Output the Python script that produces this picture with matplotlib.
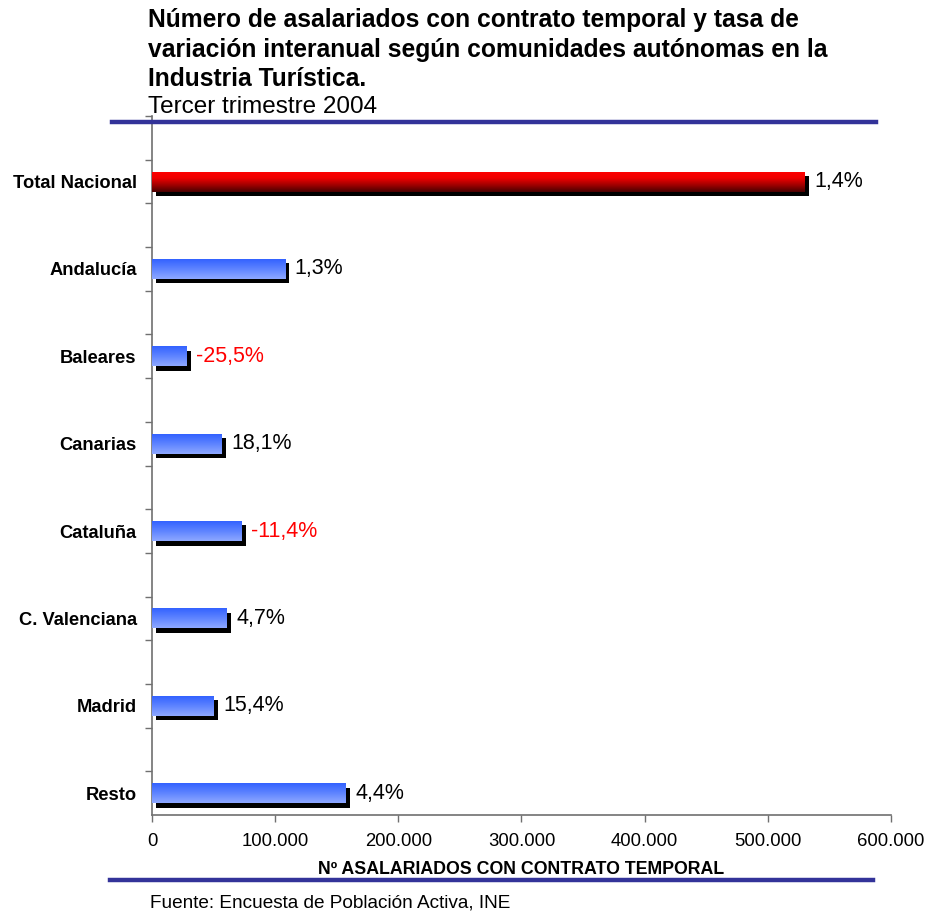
import numpy as np
import matplotlib
matplotlib.use("Agg")
import matplotlib.pyplot as plt
from matplotlib.colors import LinearSegmentedColormap
from matplotlib import patheffects as pe
from matplotlib.ticker import FixedLocator, FuncFormatter

plt.rcParams['font.family'] = ['Liberation Sans', 'DejaVu Sans']

categories = ["Total Nacional", "Andalucía", "Baleares", "Canarias", "Cataluña",
              "C. Valenciana", "Madrid", "Resto"]
values = [530000, 108000, 27700, 56400, 72600, 60400, 49900, 157000]
rates = ["1,4%", "1,3%", "-25,5%", "18,1%", "-11,4%", "4,7%", "15,4%", "4,4%"]
xticks = [0, 100000, 200000, 300000, 400000, 500000, 600000]

fig = plt.figure(figsize=(9.3, 9.15), dpi=100)
ax = fig.add_axes([0.1634, 0.1093, 0.7946, 0.7639])

y = np.arange(len(categories))
bh = 0.23
red_cmap = LinearSegmentedColormap.from_list("r", ["#ff0000", "#ee0000", "#a00000", "#4a0000"])
blue_cmap = LinearSegmentedColormap.from_list("b", ["#2f5fff", "#5c82ff", "#8ea8ff"])
grad = np.linspace(0, 1, 64).reshape(-1, 1)

bars = ax.barh(y, values, height=bh, color="#3366ff", zorder=2)
for i, b in enumerate(bars):
    b.set_path_effects([pe.SimplePatchShadow(offset=(3.2, -3.2), shadow_rgbFace='black', alpha=1.0),
                        pe.Normal()])
    x0, y0, w, h = b.get_x(), b.get_y(), b.get_width(), b.get_height()
    cmap = red_cmap if i == 0 else blue_cmap
    im = ax.imshow(grad, cmap=cmap, aspect='auto', extent=(x0, x0 + w, y0 + h, y0),
                   origin='upper', zorder=3, interpolation='bilinear')
    im.set_clip_path(b)
    col = 'red' if rates[i].startswith('-') else 'black'
    ax.annotate(rates[i], xy=(x0 + w, y0 + h / 2), xytext=(7, 0), textcoords='offset points',
                ha='left', va='center', fontsize=15.5, color=col, zorder=4)

ax.set_xlim(0, 600000)
ax.set_ylim(7.25, -0.75)
ax.set_xticks(xticks)
ax.xaxis.set_major_formatter(FuncFormatter(lambda v, p: f"{int(v):,}".replace(",", ".")))
ax.tick_params(axis='x', labelsize=13.3, length=5, width=1, color='#707070', pad=8)
ax.set_yticks(y)
ax.set_yticklabels(categories, fontsize=13.2, fontweight='bold')
ax.tick_params(axis='y', which='major', length=0, pad=11)
ax.yaxis.set_minor_locator(FixedLocator(np.arange(-0.75, 7.0, 0.5)))
ax.tick_params(axis='y', which='minor', length=5, width=1, color='#707070')
for s in ['top', 'right']:
    ax.spines[s].set_visible(False)
for s in ['left', 'bottom']:
    ax.spines[s].set_color('#707070')
    ax.spines[s].set_linewidth(1.2)

ax.set_xlabel("Nº ASALARIADOS CON CONTRATO TEMPORAL", fontsize=12.8, fontweight='bold', labelpad=8)

# Title
tfs = 17.7
fig.text(148 / 930, 1 - 20 / 915, "Número de asalariados con contrato temporal y tasa de",
         fontsize=tfs, fontweight='bold', va='center', ha='left')
fig.text(148 / 930, 1 - 50 / 915, "variación interanual según comunidades autónomas en la",
         fontsize=tfs, fontweight='bold', va='center', ha='left')
fig.text(148 / 930, 1 - 79 / 915, "Industria Turística.",
         fontsize=tfs, fontweight='bold', va='center', ha='left')
fig.text(148 / 930, 1 - 107 / 915, "Tercer trimestre 2004",
         fontsize=17.5, va='center', ha='left')

# Decorative lines
fig.add_artist(plt.Line2D([112 / 930, 876 / 930], [1 - 122 / 915, 1 - 122 / 915],
                          color='#333399', linewidth=3.2))
fig.add_artist(plt.Line2D([110 / 930, 873 / 930], [1 - 880 / 915, 1 - 880 / 915],
                          color='#333399', linewidth=3.2))

fig.text(150 / 930, 1 - 903 / 915, "Fuente: Encuesta de Población Activa, INE",
         fontsize=13.7, va='center', ha='left')

fig.savefig("out.png", dpi=100)
